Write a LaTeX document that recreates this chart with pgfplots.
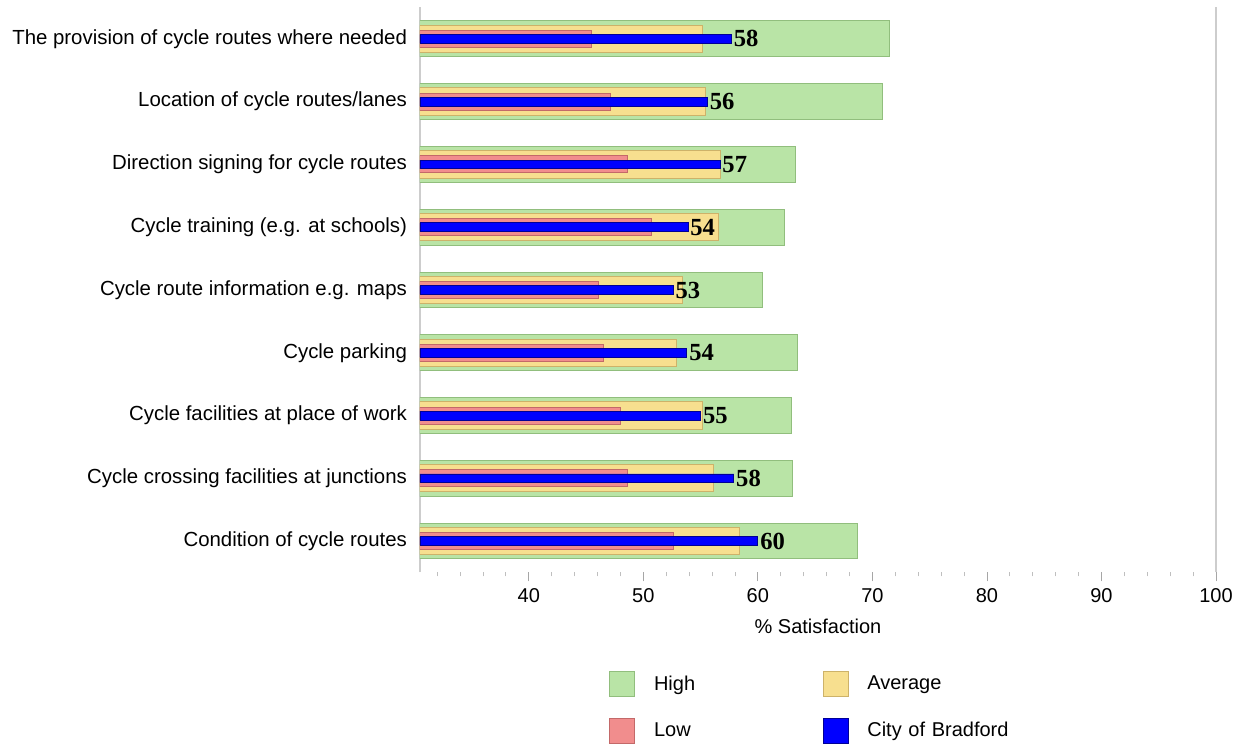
\documentclass[border=0pt]{standalone}
\usepackage{pgfplots}
\pgfplotsset{compat=1.18}
\usepackage{pgfplotstable}
\usepackage{fontspec}
\setmainfont{Liberation Sans}
\newfontfamily\labelfont{Liberation Serif}

\definecolor{hiFill}{RGB}{185,228,166}
\definecolor{hiLine}{RGB}{145,190,125}
\definecolor{avFill}{RGB}{247,223,143}
\definecolor{avLine}{RGB}{205,178,105}
\definecolor{loFill}{RGB}{241,141,141}
\definecolor{loLine}{RGB}{195,105,105}
\definecolor{cityFill}{RGB}{0,0,255}
\definecolor{cityLine}{RGB}{0,0,150}
\definecolor{axisgray}{RGB}{205,205,205}

% row 8 = top category, row 0 = bottom
\pgfplotstableread{
row high avg low city lbl
8 71.5 55.2 45.5 57.7 58
7 70.9 55.4 47.1 55.6 56
6 63.3 56.7 48.6 56.7 57
5 62.3 56.6 50.7 53.9 54
4 60.4 53.4 46.1 52.6 53
3 63.45 52.9 46.5 53.8 54
2 62.9 55.2 48.0 55.0 55
1 63.0 56.15 48.6 57.9 58
0 68.7 58.4 52.6 60.0 60
}\satisfaction

\pgfplotsset{sq legend/.style={legend image code/.code={
  \draw[#1] (0pt,-6.25pt) rectangle (12.5pt,6.25pt);
  \path (18.5pt,0pt);}}}

\begin{document}
\begin{tikzpicture}
\begin{axis}[
  width=398pt, height=282.5pt, scale only axis,
  xmin=30.5, xmax=100, ymin=-0.5, ymax=8.5,
  xbar,
  xtick={40,50,...,100}, minor xtick={32,34,...,98},
  ytick={0,...,8},
  yticklabels={Condition of cycle routes,
    Cycle crossing facilities at junctions,
    Cycle facilities at place of work,
    Cycle parking,
    Cycle route information e.g. maps,
    Cycle training (e.g. at schools),
    Direction signing for cycle routes,
    Location of cycle routes/lanes,
    The provision of cycle routes where needed},
  separate axis lines,
  x axis line style={draw=none},
  y axis line style={draw=axisgray, line width=0.6pt},
  xtick pos=lower,
  tick align=outside,
  major tick length=4.5pt, minor tick length=2pt,
  xtick style={draw=gray!70, line width=0.4pt},
  minor x tick style={draw=gray!50, line width=0.4pt},
  ytick style={draw=none},
  /pgf/number format/assume math mode=true,
  xticklabel style={font=\fontsize{10}{12}\selectfont},
  yticklabel style={font=\fontsize{10.2}{12}\selectfont, xshift=1.5pt},
  xlabel={\% Satisfaction},
  xlabel style={font=\fontsize{10}{12}\selectfont, at={(axis description cs:0.5,0)}, anchor=center, yshift=-26.75pt},
  legend columns=2,
  legend cell align=left,
  legend style={draw=none, fill=none, at={(0.2374,-0.17)}, anchor=north west,
    inner sep=0pt, row sep=8pt, font=\fontsize{10}{12}\selectfont,
    nodes={text width=81pt, align=left, inner sep=3.33pt}},
]
\coordinate (sw) at (rel axis cs:0,0);
\addplot[bar shift=0pt, bar width=0.57, fill=hiFill, draw=hiLine, line width=0.5pt, sq legend]
  table[x=high, y=row] {\satisfaction};
\addlegendentry{High}
\addplot[bar shift=0pt, bar width=0.435, fill=avFill, draw=avLine, line width=0.5pt, sq legend]
  table[x=avg, y=row] {\satisfaction};
\addlegendentry{Average}
\addplot[bar shift=0pt, bar width=0.27, fill=loFill, draw=loLine, line width=0.5pt, sq legend]
  table[x=low, y=row] {\satisfaction};
\addlegendentry{Low}
\addplot[bar shift=0pt, bar width=0.14, fill=cityFill, draw=cityLine, line width=0.4pt, sq legend,
  nodes near coords, point meta=explicit symbolic,
  nodes near coords style={font=\labelfont\bfseries\fontsize{12.3}{12}\selectfont, text=black, anchor=west, inner sep=1pt}]
  table[x=city, y=row, meta=lbl] {\satisfaction};
\addlegendentry{City of Bradford}
\end{axis}
\pgfresetboundingbox
\path[use as bounding box] ([shift={(-210pt,-87.25pt)}]sw) rectangle ([shift={(411pt,286.25pt)}]sw);
\end{tikzpicture}
\end{document}
